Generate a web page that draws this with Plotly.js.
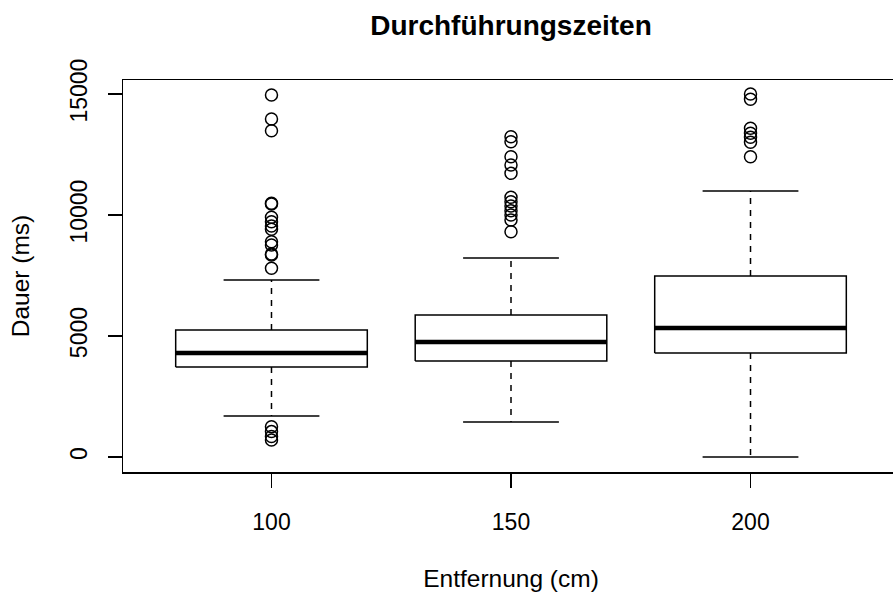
<!DOCTYPE html>
<html><head><meta charset="utf-8">
<script src="https://cdn.plot.ly/plotly-3.0.1.min.js"></script>
<style>html,body{margin:0;padding:0;overflow:hidden;background:#fff}</style>
</head><body>
<div id="chart"></div>
<script>
const categories = ['100', '150', '200'];
const lowerWhisker = [1694, 1446, 0];
const q1 = [3719, 3967, 4298];
const median = [4298, 4752, 5331];
const q3 = [5248, 5868, 7479];
const upperWhisker = [7314, 8223, 10992];
const outliers100 = [14959, 13967, 13483, 10483, 10455, 9905, 9723, 9545, 9409, 8897, 8760, 8388, 8347, 7798, 1250, 1050, 850, 700];
const outliers150 = [13236, 13029, 12409, 12066, 11723, 10731, 10550, 10372, 10178, 10000, 9793, 9310];
const outliers200 = [15000, 14781, 13583, 13376, 13211, 13004, 12409];
const yTicks = [0, 5000, 10000, 15000];

const outliers = [outliers100, outliers150, outliers200];
const BW = 0.4, CW = 0.2;
const traces = [];
categories.forEach((c, k) => {
  const i = k + 1;
  traces.push({type: 'scatter', mode: 'lines', x: [i, i, null, i, i], y: [q3[k], upperWhisker[k], null, q1[k], lowerWhisker[k]],
    line: {color: '#000', width: 1.5, dash: '6px,6px'}, hoverinfo: 'skip', showlegend: false});
  traces.push({type: 'scatter', mode: 'lines', x: [i - CW, i + CW, null, i - CW, i + CW], y: [upperWhisker[k], upperWhisker[k], null, lowerWhisker[k], lowerWhisker[k]],
    line: {color: '#000', width: 1.5}, hoverinfo: 'skip', showlegend: false});
  traces.push({type: 'scatter', mode: 'lines', x: [i - BW, i + BW, i + BW, i - BW, i - BW], y: [q1[k], q1[k], q3[k], q3[k], q1[k]],
    line: {color: '#000', width: 1.5}, fill: 'toself', fillcolor: '#fff', name: c, showlegend: false});
  traces.push({type: 'scatter', mode: 'lines', x: [i - BW, i + BW], y: [median[k], median[k]],
    line: {color: '#000', width: 4.5}, showlegend: false});
  traces.push({type: 'scatter', mode: 'markers', x: outliers[k].map(() => i), y: outliers[k],
    marker: {symbol: 'circle-open', size: 12, color: '#000', line: {width: 1.5, color: '#000'}}, showlegend: false});
});

const family = 'Liberation Sans, Arial, sans-serif';
const tickFont = {family: family, size: 23, color: '#000'};
const labelFont = {family: family, size: 24.5, color: '#000'};
const layout = {
  width: 906, height: 592,
  margin: {l: 123, r: 7, t: 80, b: 120},
  paper_bgcolor: '#fff', plot_bgcolor: '#fff',
  font: tickFont,
  title: {text: '<b>Durchführungszeiten</b>', font: {family: family, size: 28, color: '#000'},
    x: 0.5, xref: 'paper', xanchor: 'center', y: 1 - 25 / 592, yref: 'container', yanchor: 'middle'},
  xaxis: {range: [0.38, 3.62], tickmode: 'array', tickvals: [1, 2, 3], ticktext: categories, tickfont: tickFont,
    showgrid: false, zeroline: false, showline: true, mirror: true, linecolor: '#000', linewidth: 1.5,
    ticks: 'outside', ticklen: 14, tickwidth: 1.5, tickcolor: '#000', ticklabelstandoff: 15,
    title: {text: 'Entfernung (cm)', font: labelFont, standoff: 44}},
  yaxis: {range: [-620, 15579], tickmode: 'array', tickvals: yTicks, ticktext: yTicks.map(String), tickfont: tickFont,
    showgrid: false, zeroline: false, showline: true, mirror: true, linecolor: '#000', linewidth: 1.5,
    ticks: 'outside', ticklen: 14, tickwidth: 1.5, tickcolor: '#000', tickangle: -90, ticklabelstandoff: 11,
    title: {text: 'Dauer (ms)', font: labelFont, standoff: 29}},
  showlegend: false
};
Plotly.newPlot('chart', traces, layout, {displayModeBar: false, staticPlot: true});
</script>
</body></html>
